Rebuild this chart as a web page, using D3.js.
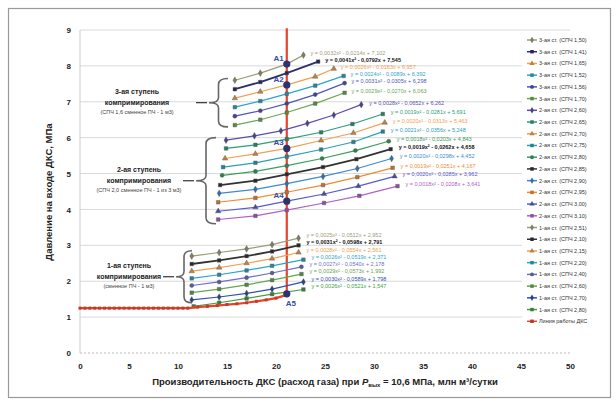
<!DOCTYPE html>
<html>
<head>
<meta charset="utf-8">
<script src="https://cdn.jsdelivr.net/npm/d3@7"></script>
<style>
  body { margin: 0; background: #fff; }
  svg text { font-family: "Liberation Sans", Arial, sans-serif; }
</style>
</head>
<body>
<div id="chart"></div>
<script>
// axis ticks
const xTicks = [0, 5, 10, 15, 20, 25, 30, 35, 40, 45, 50];
const yTicks = [0, 1, 2, 3, 4, 5, 6, 7, 8, 9];

// 3rd stage (top group)
const stage3Names = ["3-ая ст. (СПЧ 1,50)", "3-ая ст. (СПЧ 1,41)", "3-ая ст. (СПЧ 1,65)", "3-ая ст. (СПЧ 1,52)", "3-ая ст. (СПЧ 1,56)", "3-ая ст. (СПЧ 1,70)"];
const stage3X = [
  [15.8, 18.4, 21.1, 22.8],
  [15.8, 18.4, 21.1, 24.3],
  [15.8, 18.4, 21.1, 24.0, 25.9],
  [15.8, 18.4, 21.1, 24.0, 26.9],
  [15.8, 18.4, 21.1, 24.0, 27.0],
  [15.8, 18.4, 21.1, 24.0, 27.0]
];
const stage3Y = [
  [7.60, 7.80, 8.05, 8.30],
  [7.35, 7.55, 7.80, 8.12],
  [7.10, 7.28, 7.47, 7.70, 7.92],
  [6.85, 7.02, 7.22, 7.45, 7.72],
  [6.60, 6.75, 6.95, 7.20, 7.52],
  [6.35, 6.50, 6.70, 6.95, 7.25]
];
const stage3Eq = [
  "y = 0,0032x² - 0,0214x + 7,102",
  "y = 0,0041x² - 0,0792x + 7,545",
  "y = 0,0026x² - 0,0163x + 6,957",
  "y = 0,0024x² - 0,0089x + 6,392",
  "y = 0,0031x² - 0,0305x + 6,298",
  "y = 0,0029x² - 0,0270x + 6,063"
];

// 2nd stage (middle group)
const stage2Names = ["2-ая ст. (СПЧ 2,60)", "2-ая ст. (СПЧ 2,65)", "2-ая ст. (СПЧ 2,70)", "2-ая ст. (СПЧ 2,75)", "2-ая ст. (СПЧ 2,80)", "2-ая ст. (СПЧ 2,85)", "2-ая ст. (СПЧ 2,90)", "2-ая ст. (СПЧ 2,95)", "2-ая ст. (СПЧ 3,00)", "2-ая ст. (СПЧ 3,10)"];
const stage2X = [
  [14.9, 17.8, 20.5, 23.2, 25.9, 28.7],
  [14.9, 17.9, 21.1, 24.6, 27.8, 30.9],
  [14.8, 17.9, 21.1, 24.6, 27.9, 31.1],
  [14.6, 17.9, 21.1, 24.6, 27.9, 30.9],
  [14.5, 17.9, 21.1, 24.7, 28.1, 31.5],
  [14.3, 17.9, 21.1, 24.8, 28.2, 31.7],
  [14.2, 17.9, 21.1, 24.8, 28.3, 31.8],
  [14.1, 17.9, 21.1, 24.8, 28.3, 31.9],
  [14.1, 17.9, 21.1, 24.9, 28.4, 32.1],
  [14.1, 17.9, 21.1, 24.9, 28.5, 32.4]
];
const stage2Y = [
  [5.93, 6.05, 6.19, 6.40, 6.63, 6.92],
  [5.70, 5.80, 5.96, 6.15, 6.38, 6.66],
  [5.42, 5.55, 5.70, 5.92, 6.13, 6.42],
  [5.18, 5.30, 5.47, 5.67, 5.88, 6.17],
  [4.95, 5.06, 5.22, 5.42, 5.64, 5.90],
  [4.68, 4.80, 4.98, 5.18, 5.40, 5.68],
  [4.45, 4.56, 4.72, 4.92, 5.14, 5.42],
  [4.20, 4.32, 4.48, 4.68, 4.90, 5.16],
  [3.95, 4.06, 4.23, 4.43, 4.65, 4.92],
  [3.72, 3.82, 3.98, 4.18, 4.38, 4.65]
];
const stage2Eq = [
  "y = 0,0028x² - 0,0652x + 6,262",
  "y = 0,0019x² - 0,0281x + 5,691",
  "y = 0,0020x² - 0,0313x + 5,463",
  "y = 0,0021x² - 0,0356x + 5,248",
  "y = 0,0018x² - 0,0203x + 4,843",
  "y = 0,0019x² - 0,0262x + 4,658",
  "y = 0,0020x² - 0,0298x + 4,452",
  "y = 0,0019x² - 0,0251x + 4,167",
  "y = 0,0020x² - 0,0285x + 3,962",
  "y = 0,0018x² - 0,0208x + 3,641"
];

// 1st stage (bottom group)
const stage1Names = ["1-ая ст. (СПЧ 2,51)", "1-ая ст. (СПЧ 2,10)", "1-ая ст. (СПЧ 2,15)", "1-ая ст. (СПЧ 2,20)", "1-ая ст. (СПЧ 2,40)", "1-ая ст. (СПЧ 2,60)", "1-ая ст. (СПЧ 2,70)", "1-ая ст. (СПЧ 2,80)"];
const stage1X = [
  [11.4, 14.2, 17.0, 19.6, 22.3],
  [11.4, 14.2, 17.0, 19.6, 22.3],
  [11.4, 14.2, 17.0, 19.6, 22.3],
  [11.4, 14.2, 17.0, 19.6, 22.8],
  [11.4, 14.2, 17.0, 19.6, 22.6],
  [11.4, 14.2, 17.0, 19.6, 22.6],
  [11.4, 14.2, 17.0, 19.6, 22.8],
  [11.6, 14.2, 17.0, 19.6, 22.8]
];
const stage1Y = [
  [2.70, 2.80, 2.90, 3.02, 3.20],
  [2.48, 2.58, 2.70, 2.83, 3.00],
  [2.28, 2.38, 2.50, 2.63, 2.80],
  [2.08, 2.18, 2.30, 2.43, 2.60],
  [1.88, 1.98, 2.10, 2.23, 2.40],
  [1.68, 1.78, 1.90, 2.03, 2.20],
  [1.48, 1.56, 1.66, 1.78, 1.98],
  [1.30, 1.40, 1.52, 1.64, 1.77]
];
const stage1Eq = [
  "y = 0,0025x² - 0,0512x + 2,952",
  "y = 0,0031x² - 0,0598x + 2,791",
  "y = 0,0028x² - 0,0554x + 2,561",
  "y = 0,0026x² - 0,0519x + 2,371",
  "y = 0,0027x² - 0,0540x + 2,178",
  "y = 0,0029x² - 0,0573x + 1,992",
  "y = 0,0030x² - 0,0589x + 1,798",
  "y = 0,0026x² - 0,0521x + 1,547"
];

// DKS operating line (red)
const dksName = "Линия работы ДКС";
const dksX = [0, 0.5, 1, 1.5, 2, 2.5, 3, 3.5, 4, 4.5, 5, 5.5, 6, 6.5, 7, 7.5, 8, 8.5, 9, 9.5, 10, 10.5, 11, 12, 13, 14, 15, 16, 17, 18, 19, 20, 21.1];
const dksY = [1.25, 1.25, 1.25, 1.25, 1.25, 1.25, 1.25, 1.25, 1.25, 1.25, 1.25, 1.25, 1.25, 1.25, 1.25, 1.25, 1.25, 1.25, 1.25, 1.25, 1.25, 1.25, 1.25, 1.28, 1.30, 1.32, 1.35, 1.37, 1.40, 1.44, 1.48, 1.53, 1.62];
const dksVerticalX = 21.1;
const dksVerticalY = [1.62, 9.05];

// A-points on the vertical line
const aNames = ["A1", "A2", "A3", "A4", "A5"];
const aY = [8.05, 7.47, 5.70, 4.23, 1.65];

// group annotations
const groupTitles = [
  ["3-ая ступень", "компримирования", "(СПЧ 1,6 сменное ПЧ - 1 м3)"],
  ["2-ая ступень", "компримирования", "(СПЧ 2,0 сменное ПЧ - 1 из 3 м3)"],
  ["1-ая ступень", "компримирования", "(сменное ПЧ - 1 м3)"]
];
const groupRangeY = [[6.3, 7.65], [3.6, 6.0], [1.4, 2.85]];

// styles
const stage3Colors = ["#9c9c7a", "#2b2f6b", "#f0a050", "#2aa6c8", "#4d58b4", "#6aa84f"];
const stage2Colors = ["#5a4fb0", "#2e9c7a", "#f0a050", "#2aa0b8", "#3aa060", "#333333", "#3c8ad0", "#f08a30", "#5a5ad0", "#b060c8"];
const stage1Colors = ["#9c9c7a", "#333333", "#f0a050", "#2aa6c8", "#7070c0", "#60a850", "#3050b0", "#40a040"];
const symbols = [d3.symbolDiamond, d3.symbolSquare, d3.symbolTriangle, d3.symbolSquare, d3.symbolCircle, d3.symbolSquare];

const W = 616, H = 403;
const svg = d3.select("#chart").append("svg").attr("width", W).attr("height", H);

svg.append("rect").attr("x", 8.5).attr("y", 8.5).attr("width", 602).attr("height", 389)
  .attr("fill", "#fff").attr("stroke", "#999").attr("stroke-width", 1.2);

const x = d3.scaleLinear().domain([0, 50]).range([80, 570]);
const y = d3.scaleLinear().domain([0, 9]).range([353, 30]);

// grid
svg.append("g").selectAll("line").data(yTicks).enter().append("line")
  .attr("x1", x(0)).attr("x2", x(50))
  .attr("y1", d => y(d)).attr("y2", d => y(d))
  .attr("stroke", d => d === 0 ? "#bbb" : "#d9d9d9")
  .attr("stroke-dasharray", d => d === 0 ? "2,2" : null)
  .attr("stroke-width", 1);
svg.append("line").attr("x1", x(0)).attr("x2", x(0)).attr("y1", y(0)).attr("y2", y(9))
  .attr("stroke", "#ccc");

// axes
const yAxis = svg.append("g").attr("transform", "translate(" + x(0) + ",0)")
  .call(d3.axisLeft(y).tickValues(yTicks).tickSize(0).tickPadding(9).tickFormat(d3.format("d")));
const xAxis = svg.append("g").attr("transform", "translate(0," + y(0) + ")")
  .call(d3.axisBottom(x).tickValues(xTicks).tickSize(0).tickPadding(10).tickFormat(d3.format("d")));
[xAxis, yAxis].forEach(a => {
  a.select(".domain").remove();
  a.selectAll("text").attr("font-size", 8).attr("font-weight", "bold").attr("fill", "#222");
});

// axis titles
svg.append("text").attr("x", 325).attr("y", 385).attr("text-anchor", "middle")
  .attr("font-size", 9.5).attr("font-weight", "bold").attr("fill", "#222")
  .html('Производительность ДКС (расход газа)  при <tspan font-style="italic">P</tspan><tspan font-size="6" dy="2">вых</tspan><tspan dy="-2"> = 10,6  МПа, млн м³/сутки</tspan>');
svg.append("text").attr("transform", "translate(52,192) rotate(-90)").attr("text-anchor", "middle")
  .attr("font-size", 9.5).attr("font-weight", "bold").attr("fill", "#222")
  .text("Давление на входе ДКС, МПа");

const line = d3.line().x(d => x(d[0])).y(d => y(d[1]));

function drawGroup(xs, ys, colors, eqs, dx, dy) {
  xs.forEach((xv, i) => {
    const pts = xv.map((v, j) => [v, ys[i][j]]);
    const col = colors[i];
    const dark = col === "#333333" || col === "#2b2f6b";
    svg.append("path").datum(pts).attr("d", line).attr("fill", "none")
      .attr("stroke", col).attr("stroke-width", dark ? 1.8 : 1.2);
    svg.append("g").selectAll("path").data(pts).enter().append("path")
      .attr("transform", d => "translate(" + x(d[0]) + "," + y(d[1]) + ")")
      .attr("d", d3.symbol().type(symbols[i % symbols.length]).size(13))
      .attr("fill", d3.color(col).darker(0.6)).attr("stroke", "#555").attr("stroke-width", 0.4);
    const last = pts[pts.length - 1];
    svg.append("text").attr("x", x(last[0]) + dx).attr("y", y(last[1]) + dy)
      .attr("font-size", 5.5).attr("fill", dark ? "#111" : col)
      .attr("font-weight", dark ? "bold" : "normal")
      .text(eqs[i]);
  });
}

// red operating line
svg.append("line").attr("x1", x(dksVerticalX)).attr("x2", x(dksVerticalX))
  .attr("y1", y(dksVerticalY[0])).attr("y2", y(dksVerticalY[1]))
  .attr("stroke", "#e8432a").attr("stroke-width", 2.2);

drawGroup(stage3X, stage3Y, stage3Colors, stage3Eq, 7, 0);
drawGroup(stage2X, stage2Y, stage2Colors, stage2Eq, 8, 0);
drawGroup(stage1X, stage1Y, stage1Colors, stage1Eq, 8, -1);

const dksPts = dksX.map((v, i) => [v, dksY[i]]);
svg.append("path").datum(dksPts).attr("d", line).attr("fill", "none")
  .attr("stroke", "#e8432a").attr("stroke-width", 2.2);
svg.append("g").selectAll("rect").data(dksPts).enter().append("rect")
  .attr("x", d => x(d[0]) - 1.5).attr("y", d => y(d[1]) - 1.5)
  .attr("width", 3).attr("height", 3).attr("fill", "#c43a2a");

// A points
aY.forEach((v, i) => {
  svg.append("circle").attr("cx", x(dksVerticalX)).attr("cy", y(v)).attr("r", 3.6)
    .attr("fill", "#2d3270");
  const last = i === aY.length - 1;
  svg.append("text")
    .attr("x", last ? x(dksVerticalX) + 4 : x(dksVerticalX) - 3)
    .attr("y", last ? y(v) + 12 : y(v) - 3)
    .attr("text-anchor", last ? "middle" : "end")
    .attr("font-size", 8).attr("font-weight", "bold").attr("fill", "#3a4aa8")
    .text(aNames[i]);
});

// braces and group labels
function brace(xl, xr, y1, y2) {
  const xm = (xl + xr) / 2, mid = (y1 + y2) / 2;
  return "M" + xr + "," + y1 + " Q" + xm + "," + y1 + " " + xm + "," + (y1 + 6) +
    " L" + xm + "," + (mid - 5) + " Q" + xm + "," + mid + " " + xl + "," + mid +
    " Q" + xm + "," + mid + " " + xm + "," + (mid + 5) +
    " L" + xm + "," + (y2 - 6) + " Q" + xm + "," + y2 + " " + xr + "," + y2;
}
const braceX = [[209, 228], [196, 216], [176, 192]];
const textX = [137, 139, 129];
groupTitles.forEach((t, i) => {
  const y1 = y(groupRangeY[i][1]), y2 = y(groupRangeY[i][0]);
  const mid = (y1 + y2) / 2;
  svg.append("path").attr("d", brace(braceX[i][0], braceX[i][1], y1, y2))
    .attr("fill", "none").attr("stroke", "#666").attr("stroke-width", 1.6);
  svg.append("line").attr("x1", braceX[i][0] - 13).attr("x2", braceX[i][0] - 2)
    .attr("y1", mid).attr("y2", mid).attr("stroke", "#333").attr("stroke-width", 1.2);
  svg.append("text").attr("x", textX[i]).attr("y", mid - 9).attr("text-anchor", "middle")
    .attr("font-size", 7).attr("font-weight", "bold").attr("fill", "#222").text(t[0]);
  svg.append("text").attr("x", textX[i]).attr("y", mid + 2).attr("text-anchor", "middle")
    .attr("font-size", 7).attr("font-weight", "bold").attr("fill", "#222").text(t[1]);
  svg.append("text").attr("x", textX[i]).attr("y", mid + 11).attr("text-anchor", "middle")
    .attr("font-size", 5.5).attr("fill", "#444").text(t[2]);
});

// legend
const legendItems = []
  .concat(stage3Names.map((n, i) => ({ name: n, color: stage3Colors[i], sym: symbols[i % symbols.length] })))
  .concat(stage2Names.map((n, i) => ({ name: n, color: stage2Colors[i], sym: symbols[i % symbols.length] })))
  .concat(stage1Names.map((n, i) => ({ name: n, color: stage1Colors[i], sym: symbols[i % symbols.length] })))
  .concat([{ name: dksName, color: "#e8432a", sym: d3.symbolSquare }]);

svg.append("rect").attr("x", 522).attr("y", 32).attr("width", 84).attr("height", 298).attr("fill", "#fff");
const lg = svg.append("g").selectAll("g").data(legendItems).enter().append("g")
  .attr("transform", (d, i) => "translate(527," + (40 + i * 11.72) + ")");
lg.append("line").attr("x1", 0).attr("x2", 10).attr("stroke", d => d.color).attr("stroke-width", 1.5);
lg.append("path").attr("transform", "translate(5,0)")
  .attr("d", d => d3.symbol().type(d.sym).size(12)())
  .attr("fill", d => d3.color(d.color).darker(0.6));
lg.append("text").attr("x", 12).attr("y", 2).attr("font-size", 5.5).attr("fill", "#333")
  .text(d => d.name);
</script>
</body>
</html>
